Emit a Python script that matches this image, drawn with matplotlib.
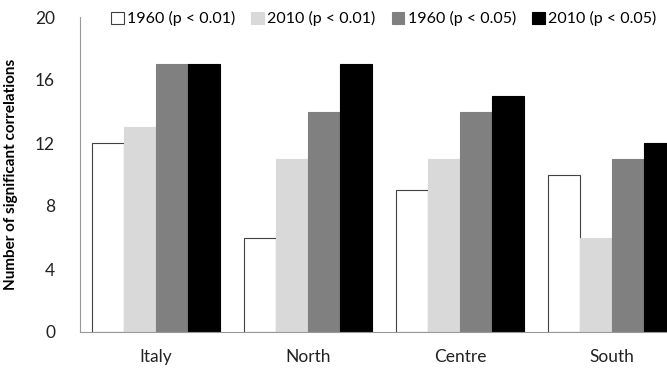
import numpy as np
import matplotlib
matplotlib.use("Agg")
import matplotlib.pyplot as plt

regions = ["Italy", "North", "Centre", "South"]
series_names = ["1960 (p < 0.01)", "2010 (p < 0.01)", "1960 (p < 0.05)", "2010 (p < 0.05)"]
v1960_01 = [12, 6, 9, 10]
v2010_01 = [13, 11, 11, 6]
v1960_05 = [17, 14, 14, 11]
v2010_05 = [17, 17, 15, 12]
yticks = [0, 4, 8, 12, 16, 20]

plt.rcParams['font.family'] = ['Lato', 'DejaVu Sans']

fig = plt.figure(figsize=(6.67, 3.69), dpi=100)
ax = fig.add_axes([80 / 667, 37 / 369, 608 / 667, 315 / 369])

x = np.arange(len(regions))
w = 0.21
colors = ["white", "#d9d9d9", "#808080", "black"]
edges = ["#404040", "#d9d9d9", "#808080", "black"]
data = [v1960_01, v2010_01, v1960_05, v2010_05]
for i, (vals, c, e, name) in enumerate(zip(data, colors, edges, series_names)):
    ax.bar(x + (i - 1.5) * w, vals, w, color=c, edgecolor=e, linewidth=0.8, label=name)

ax.set_xlim(-0.5, 3.5)
ax.set_ylim(0, 20)
ax.set_yticks(yticks)
ax.set_xticks(x)
ax.set_xticklabels(regions)
ax.tick_params(length=0, labelsize=12.5, colors="#222222")
ax.tick_params(axis="y", pad=18)
ax.tick_params(axis="x", pad=12)
for s in ["top", "right"]:
    ax.spines[s].set_visible(False)
for s in ["left", "bottom"]:
    ax.spines[s].set_color("#999999")
ax.set_ylabel("Number of significant correlations", fontsize=11, fontweight="bold", labelpad=12)

ax.legend(loc="upper left", bbox_to_anchor=(100 / 667, 1.0), bbox_transform=fig.transFigure,
          ncol=4, frameon=False, fontsize=11.5, handlelength=0.8, handleheight=0.8,
          handletextpad=0.2, columnspacing=1.0, borderaxespad=0.3)

fig.savefig("out.png", dpi=100)
